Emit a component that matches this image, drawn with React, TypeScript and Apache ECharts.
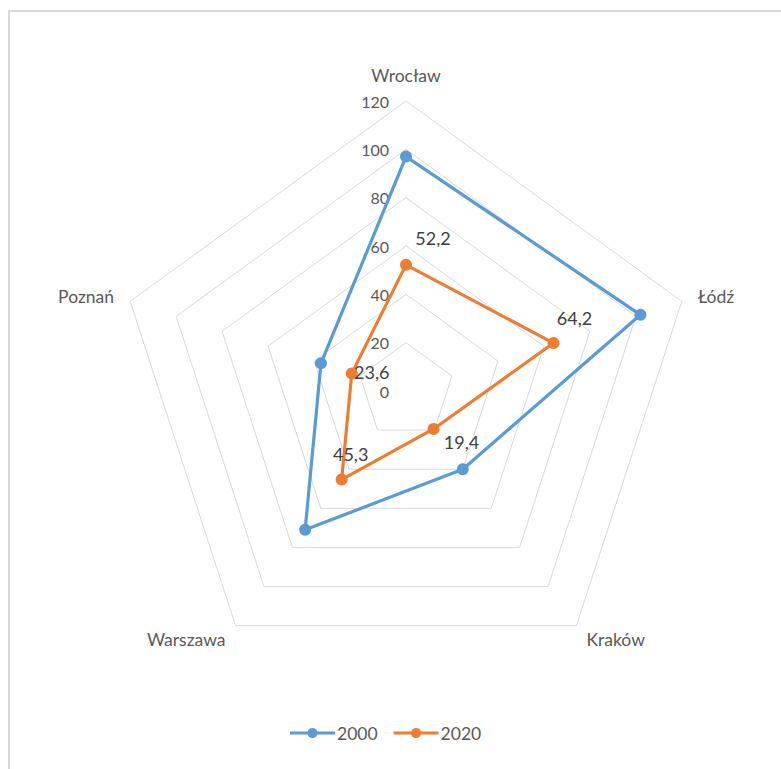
import React, { useEffect, useRef } from "react";
import * as echarts from "echarts";

const categories = ["Wrocław", "Łódź", "Kraków", "Warszawa", "Poznań"];
const values2000 = [97, 102, 40, 71, 37];
const values2020 = [52.2, 64.2, 19.4, 45.3, 23.6];
const seriesNames = ["2000", "2020"];
const axisMin = 0;
const axisMax = 120;
const splitCount = 6;

const colors = ["#5B9BD5", "#ED7D31"];
const FONT = "Lato, 'Noto Sans', sans-serif";
// label offsets (per category, same order as categories)
const labelOffsets: [number, number][] = [
  [27, -27],
  [21, -25],
  [28, 13],
  [9, -26],
  [20, -1],
];

// ECharts places indicators counter-clockwise; Excel clockwise.
const order = [0, ...categories.slice(1).map((_, i) => categories.length - 1 - i)];
const reorder = (arr: number[]) => order.map((i) => arr[i]);
const fmt = (v: number) => String(v).replace(".", ",");

const legendIcon =
  "path://M0,3.5 L17.7,3.5 A5,5 0 0 1 27.3,3.5 L45,3.5 L45,6.5 L27.3,6.5 A5,5 0 0 1 17.7,6.5 L0,6.5 Z";

export default function App() {
  const ref = useRef<HTMLDivElement>(null);
  useEffect(() => {
    if (!ref.current) return;
    const chart = echarts.init(ref.current, undefined, { renderer: "svg" });
    const mainSeries = [values2000, values2020].map((vals, s) => ({
      type: "radar",
      name: seriesNames[s],
      symbol: "circle",
      symbolSize: 12,
      z: 2 + s,
      lineStyle: { color: colors[s], width: 3.2 },
      itemStyle: { color: colors[s] },
      data: [{ value: reorder(vals), name: seriesNames[s] }],
    }));
    const labelSeries = categories.map((cat, k) => ({
      type: "radar",
      name: "lbl-" + cat,
      silent: true,
      symbol: "circle",
      symbolSize: 1,
      z: 10,
      lineStyle: { opacity: 0 },
      itemStyle: { color: "rgba(0,0,0,0)" },
      label: {
        show: true,
        position: "inside",
        offset: labelOffsets[k],
        color: "#404040",
        fontSize: 18,
        fontFamily: FONT,
        formatter: (p: any) => (p.value === values2020[k] ? fmt(values2020[k]) : ""),
      },
      data: [{ value: reorder(values2020), name: "lbl-" + cat }],
    }));
    chart.setOption({
      animation: false,
      backgroundColor: "#ffffff",
      legend: {
        data: seriesNames,
        bottom: 22,
        left: 275,
        icon: legendIcon,
        itemWidth: 45,
        itemHeight: 12,
        itemGap: 16,
        textStyle: { color: "#595959", fontSize: 17.5, fontFamily: FONT, padding: [0, 0, 0, -3] },
      },
      radar: {
        center: [396, 379],
        radius: 290,
        startAngle: 90,
        splitNumber: splitCount,
        shape: "polygon",
        nameGap: 17,
        axisName: { color: "#595959", fontSize: 17.5, fontFamily: FONT },
        splitLine: { lineStyle: { color: "#d9d9d9", width: 1 } },
        splitArea: { show: false },
        axisLine: { show: false },
        axisTick: { show: false },
        axisLabel: { show: false },
        indicator: order.map((i, j) => ({
          name: categories[i],
          min: axisMin,
          max: axisMax,
          ...(j === 0
            ? {
                axisLabel: {
                  show: true,
                  margin: 17,
                  color: "#595959",
                  fontSize: 16,
                  fontFamily: FONT,
                },
              }
            : {}),
        })),
      },
      series: [...mainSeries, ...labelSeries],
    });
    return () => chart.dispose();
  }, []);
  return (
    <div
      style={{
        position: "absolute",
        left: 8,
        top: 10,
        width: 773,
        height: 759,
        overflow: "hidden",
        borderLeft: "2px solid #d9d9d9",
        borderTop: "2px solid #d9d9d9",
        boxSizing: "border-box",
        background: "#fff",
      }}
    >
      <div ref={ref} style={{ width: 771, height: 757 }} />
    </div>
  );
}
